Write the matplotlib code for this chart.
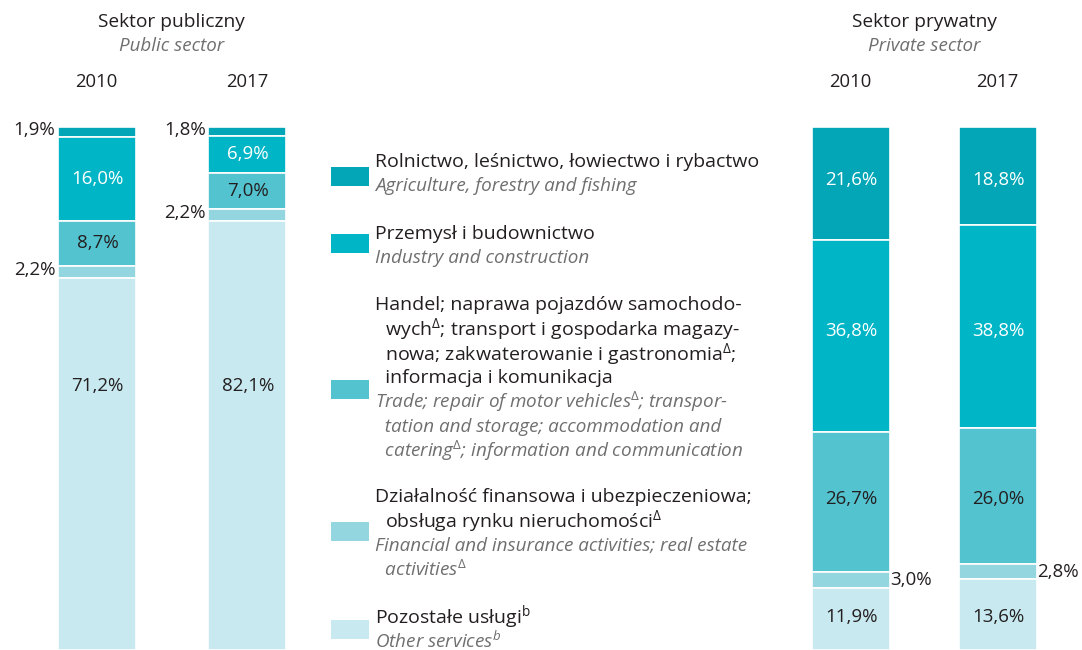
import matplotlib.pyplot as plt
from matplotlib.patches import Rectangle

plt.rcParams['font.family'] = ['Open Sans', 'DejaVu Sans']
plt.rcParams['mathtext.fontset'] = 'custom'
plt.rcParams['mathtext.rm'] = 'Open Sans'
plt.rcParams['mathtext.it'] = 'Open Sans:italic'

# data (top to bottom of each stack)
years = ['2010', '2017']
public_2010 = [1.9, 16.0, 8.7, 2.2, 71.2]
public_2017 = [1.8, 6.9, 7.0, 2.2, 82.1]
private_2010 = [21.6, 36.8, 26.7, 3.0, 11.9]
private_2017 = [18.8, 38.8, 26.0, 2.8, 13.6]

colors = ['#03a6b6', '#00b6c6', '#53c3d0', '#93d6df', '#c8e9ef']
dark = '#231f20'
grey = '#6f6f6f'

legend_pl = [
    ['Rolnictwo, leśnictwo, łowiectwo i rybactwo'],
    ['Przemysł i budownictwo'],
    ['Handel; naprawa pojazdów samochodo-',
     '  wych$^{\\Delta}$; transport i gospodarka magazy-',
     '  nowa; zakwaterowanie i gastronomia$^{\\Delta}$;',
     '  informacja i komunikacja'],
    ['Działalność finansowa i ubezpieczeniowa;',
     '  obsługa rynku nieruchomości$^{\\Delta}$'],
    ['Pozostałe usługi$^{\\mathrm{b}}$'],
]
legend_en = [
    ['Agriculture, forestry and fishing'],
    ['Industry and construction'],
    ['Trade; repair of motor vehicles$^{\\Delta}$; transpor-',
     '  tation and storage; accommodation and',
     '  catering$^{\\Delta}$; information and communication'],
    ['Financial and insurance activities; real estate',
     '  activities$^{\\Delta}$'],
    ['Other services$^{b}$'],
]

fig = plt.figure(figsize=(10.82, 6.5), dpi=100)

# bars axes: top of bars at pixel 127, bottom at figure bottom
ax = fig.add_axes([0, 0, 1, (650 - 127) / 650])
ax.set_xlim(0, 1082)
ax.set_ylim(0, 100)
ax.axis('off')

width = 78
groups = [('public', (96.5, 247), (public_2010, public_2017)),
          ('private', (850.5, 997.5), (private_2010, private_2017))]

fs = 13.5
for sector, xs, series in groups:
    mids = []
    for vals in series:
        tops = [100 - sum(vals[:i]) for i in range(len(vals))]
        mids.append([t - v / 2 for t, v in zip(tops, vals)])
    for k, (x, vals) in enumerate(zip(xs, series)):
        top = 100.0
        for i, v in enumerate(vals):
            bottom = top - v
            ax.bar(x, v, bottom=bottom, width=width, color=colors[i],
                   edgecolor='white', linewidth=1.2)
            lab = f'{v:.1f}%'.replace('.', ',')
            mid = mids[k][i]
            if v < 4:
                if sector == 'public':
                    ax.text(x - width / 2 - 2, mid + 0.3, lab, ha='right',
                            va='center', fontsize=fs, color=dark)
                else:
                    ax.text(x + width / 2 + 1, mid, lab, ha='left',
                            va='center', fontsize=fs, color=dark)
            else:
                if sector == 'private':
                    y = (mids[0][i] + mids[1][i]) / 2
                elif v > 50:
                    y = 50.5
                else:
                    y = mid
                c = 'white' if i < 2 else dark
                ax.text(x + 1, y, lab, ha='center', va='center', fontsize=fs,
                        color=c)
            top = bottom

# overlay for headers and legend, pixel coordinates
ov = fig.add_axes([0, 0, 1, 1])
ov.set_xlim(0, 1082)
ov.set_ylim(650, 0)
ov.axis('off')

for cx, pl, en, xs in [(171.5, 'Sektor publiczny', 'Public sector', (96.5, 247)),
                        (924, 'Sektor prywatny', 'Private sector', (850.5, 997.5))]:
    ov.text(cx, 22, pl, ha='center', va='center', fontsize=13.8, color=dark)
    ov.text(cx, 46, en, ha='center', va='center', fontsize=13.5, color=grey,
            style='italic')
    for x, yr in zip(xs, years):
        ov.text(x, 82, yr, ha='center', va='center', fontsize=13.3, color=dark)

swatch_y = [176, 243, 389, 531, 629]
pl_start = [162, 234, 305, 497, 617]
line_h = 24.3
for i in range(5):
    ov.add_patch(Rectangle((331, swatch_y[i] - 9.5), 38, 19, color=colors[i],
                           lw=0))
    y = pl_start[i]
    for line in legend_pl[i]:
        ov.text(375, y, line, ha='left', va='center', fontsize=14, color=dark)
        y += line_h
    for line in legend_en[i]:
        ov.text(375, y, line, ha='left', va='center', fontsize=13.6, color=grey,
                style='italic')
        y += line_h

fig.savefig('out.png', dpi=100)
